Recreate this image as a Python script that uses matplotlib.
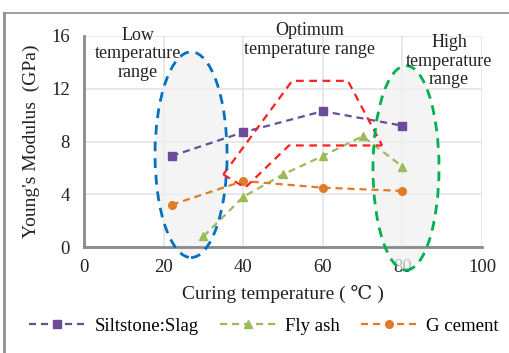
import matplotlib
matplotlib.use("Agg")
import matplotlib.pyplot as plt
from matplotlib.patches import Ellipse
from matplotlib.lines import Line2D

plt.rcParams['font.family'] = ['Liberation Serif', 'DejaVu Serif', 'DejaVu Sans']

# Data
slag_x = [22, 40, 60, 80]
slag_y = [6.9, 8.7, 10.3, 9.2]
fly_x = [30, 40, 50, 60, 70, 80]
fly_y = [0.8, 3.8, 5.5, 6.9, 8.4, 6.1]
gcem_x = [22, 40, 60, 80]
gcem_y = [3.2, 5.0, 4.5, 4.25]

# Optimum range outline (annotation)
opt_upper_x = [35, 52.3, 66.3, 74.9]
opt_upper_y = [5.5, 12.6, 12.6, 7.7]
opt_lower_x = [35, 40.5, 51.5, 74.9]
opt_lower_y = [5.5, 4.5, 7.7, 7.7]

xticks = [0, 20, 40, 60, 80, 100]
yticks = [0, 4, 8, 12, 16]

c_slag = '#6b4c9a'
c_fly = '#9bbb59'
c_gcem = '#e07b28'

fig = plt.figure(figsize=(5.10, 3.53), dpi=100)
W, H = 510, 353
ax = fig.add_axes([84 / W, 1 - 247 / H, (482 - 84) / W, (247 - 36) / H])

ax.set_xlim(0, 100)
ax.set_ylim(0, 16)
ax.set_xticks(xticks)
ax.set_yticks(yticks)
ax.grid(True, color='#e4e4e4', lw=1.2)
ax.set_axisbelow(True)
for s in ['top', 'right']:
    ax.spines[s].set_visible(False)
for s in ['left', 'bottom']:
    ax.spines[s].set_color('#8a8a8a')
    ax.spines[s].set_linewidth(2)
ax.tick_params(length=0, labelsize=13.5, colors='#222222')
ax.tick_params(axis='x', pad=9)
ax.tick_params(axis='y', pad=10)

# ellipses
e1 = Ellipse((26.9, 7.0), 18.1, 15.6, facecolor='#f1f1f1', alpha=0.75,
             edgecolor='none', zorder=1, clip_on=False)
e2 = Ellipse((80.9, 6.0), 16.6, 15.5, facecolor='#f1f1f1', alpha=0.75,
             edgecolor='none', zorder=1, clip_on=False)
ax.add_patch(e1)
ax.add_patch(e2)

dash = (3.2, 2.2)
ax.plot(slag_x, slag_y, color=c_slag, lw=1.6, ls=(0, dash), marker='s', ms=5.5, zorder=4)
ax.plot(fly_x, fly_y, color=c_fly, lw=1.6, ls=(0, dash), marker='^', ms=6, zorder=4)
ax.plot(gcem_x, gcem_y, color=c_gcem, lw=1.6, ls=(0, dash), marker='o', ms=5.5, zorder=4)

ax.plot(opt_upper_x, opt_upper_y, color='#ff1f1f', lw=1.6, ls=(0, (3.5, 2.5)), zorder=5)
ax.plot(opt_lower_x, opt_lower_y, color='#ff1f1f', lw=1.6, ls=(0, (3.5, 2.5)), zorder=5)

e1b = Ellipse((26.9, 7.0), 18.1, 15.6, facecolor='none', edgecolor='#0070c0',
              lw=2.0, ls=(0, (3.5, 2.5)), zorder=6, clip_on=False)
e2b = Ellipse((80.9, 6.0), 16.6, 15.5, facecolor='none', edgecolor='#00b050',
              lw=2.0, ls=(0, (3.5, 2.5)), zorder=6, clip_on=False)
ax.add_patch(e1b)
ax.add_patch(e2b)

ax.set_xlabel('Curing temperature ( \u2103 )', fontsize=14, labelpad=6, color='#222222')
ax.set_ylabel("Young's Modulus  (GPa)", fontsize=14, labelpad=8, color='#222222')

fig.text(138 / W, 1 - 54 / H, 'Low\ntemperature\nrange', ha='center', va='center',
         fontsize=13, linespacing=1.1, color='#222222')
fig.text(310 / W, 1 - 40 / H, 'Optimum\ntemperature range', ha='center', va='center',
         fontsize=13, linespacing=1.1, color='#222222')
fig.text(449 / W, 1 - 61 / H, 'High\ntemperature\nrange', ha='center', va='center',
         fontsize=13, linespacing=1.1, color='#222222')

handles = [
    Line2D([], [], color=c_slag, lw=1.6, ls=(0, dash), marker='s', ms=5.5),
    Line2D([], [], color=c_fly, lw=1.6, ls=(0, dash), marker='^', ms=6),
    Line2D([], [], color=c_gcem, lw=1.6, ls=(0, dash), marker='o', ms=5.5),
]
fig.legend(handles, ['Siltstone:Slag', 'Fly ash', 'G cement'], loc='center',
           bbox_to_anchor=(264 / W, 1 - 326 / H), ncol=3, frameon=False,
           fontsize=13.5, handlelength=3.0, columnspacing=1.1, handletextpad=0.5)

# figure frame (top and left)
fig.add_artist(Line2D([4 / W, 4 / W], [0, 1 - 13 / H], transform=fig.transFigure,
                      color='#909090', lw=2))
fig.add_artist(Line2D([4 / W, 1], [1 - 13 / H, 1 - 13 / H], transform=fig.transFigure,
                      color='#909090', lw=1.2))

fig.savefig('out.png', dpi=100)
